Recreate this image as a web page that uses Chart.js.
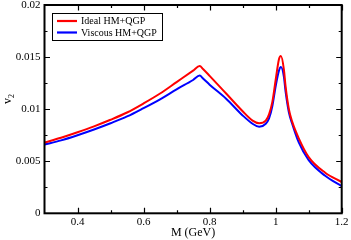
<!DOCTYPE html>
<html><head><meta charset="utf-8">
<script src="https://cdn.jsdelivr.net/npm/chart.js@4/dist/chart.umd.min.js"></script>
<style>html,body{margin:0;padding:0;background:#fff}#wrap{width:351px;height:240px}</style>
</head><body><div id="wrap"><canvas id="c" width="351" height="240"></canvas></div>
<script>
const massGeV   = [0.30,0.35,0.40,0.45,0.50,0.55,0.60,0.65,0.70,0.75,0.77,0.78,0.80,0.85,0.90,0.93,0.95,0.97,0.98,0.99,1.00,1.01,1.016,1.025,1.03,1.04,1.05,1.07,1.10,1.15,1.20];
const idealV2   = [0.0068,0.00725,0.00778,0.00835,0.00898,0.00968,0.01055,0.0115,0.0126,0.0137,0.01415,0.01386,0.0132,0.0115,0.0098,0.0089,0.00865,0.0089,0.0095,0.0107,0.0128,0.0148,0.0151,0.0138,0.0122,0.0100,0.0088,0.0072,0.0054,0.0039,0.0030];
const viscousV2 = [0.0066,0.0070,0.0075,0.00805,0.00865,0.0093,0.0101,0.01095,0.0119,0.0128,0.01322,0.01295,0.01235,0.0110,0.0094,0.0086,0.0083,0.0086,0.0091,0.0103,0.0122,0.0137,0.01404,0.0131,0.0117,0.0097,0.0086,0.0068,0.0051,0.0036,0.0026];
const seriesNames = ['Ideal HM+QGP','Viscous HM+QGP'];
const xTickValues = [0.4,0.6,0.8,1.0,1.2];
const xTickLabels = ['0.4','0.6','0.8','1','1.2'];
const xMinorTicks = [0.5,0.7,0.9,1.1];
const yTickValues = [0,0.005,0.01,0.015,0.02];
const yTickLabels = ['0','0.005','0.01','0.015','0.02'];
const yMinorTicks = [0.0025,0.0075,0.0125,0.0175];

const SERIF = '"Liberation Serif","Times New Roman",serif';

const decor = {
  id:'decor',
  afterDraw(chart){
    const ctx = chart.ctx, a = chart.chartArea, xs = chart.scales.x, ys = chart.scales.y;
    ctx.save();
    ctx.strokeStyle = '#000';
    ctx.lineWidth = 2;
    ctx.strokeRect(a.left, a.top, a.right - a.left, a.bottom - a.top);
    ctx.lineWidth = 1.2;
    const MAJ = 5.5, MIN = 3;
    ctx.beginPath();
    xTickValues.forEach(v=>{const p=Math.round(xs.getPixelForValue(v))+0.5; ctx.moveTo(p,a.bottom); ctx.lineTo(p,a.bottom-MAJ); ctx.moveTo(p,a.top); ctx.lineTo(p,a.top+MAJ);});
    xMinorTicks.forEach(v=>{const p=Math.round(xs.getPixelForValue(v))+0.5; ctx.moveTo(p,a.bottom); ctx.lineTo(p,a.bottom-MIN); ctx.moveTo(p,a.top); ctx.lineTo(p,a.top+MIN);});
    yTickValues.forEach(v=>{const p=Math.round(ys.getPixelForValue(v))+0.5; ctx.moveTo(a.left,p); ctx.lineTo(a.left+MAJ,p); ctx.moveTo(a.right,p); ctx.lineTo(a.right-MAJ,p);});
    yMinorTicks.forEach(v=>{const p=Math.round(ys.getPixelForValue(v))+0.5; ctx.moveTo(a.left,p); ctx.lineTo(a.left+MIN,p); ctx.moveTo(a.right,p); ctx.lineTo(a.right-MIN,p);});
    ctx.stroke();

    ctx.fillStyle = '#000';
    ctx.font = '11px ' + SERIF;
    ctx.textAlign = 'center'; ctx.textBaseline = 'top';
    xTickValues.forEach((v,i)=>ctx.fillText(xTickLabels[i], xs.getPixelForValue(v), a.bottom + 3.5));
    ctx.textAlign = 'right'; ctx.textBaseline = 'middle';
    yTickValues.forEach((v,i)=>ctx.fillText(yTickLabels[i], a.left - 4, ys.getPixelForValue(v)));

    // axis titles
    ctx.font = '12px ' + SERIF;
    ctx.textAlign = 'center'; ctx.textBaseline = 'alphabetic';
    ctx.fillText('M (GeV)', (a.left + a.right)/2, 236);
    ctx.save();
    ctx.translate(11, 100);
    ctx.rotate(-Math.PI/2);
    ctx.textAlign = 'left';
    ctx.font = '12px ' + SERIF;
    ctx.fillText('v', -4, 0);
    ctx.font = '8px ' + SERIF;
    ctx.fillText('2', 2, 3);
    ctx.restore();

    // legend
    const lx = 52, ly = 13, lw = 110, lh = 27;
    ctx.fillStyle = '#fff';
    ctx.fillRect(lx, ly, lw, lh);
    ctx.lineWidth = 1;
    ctx.strokeStyle = '#000';
    ctx.strokeRect(lx + 0.5, ly + 0.5, lw, lh);
    const items = chart.data.datasets;
    ctx.font = '10px ' + SERIF;
    ctx.textAlign = 'left'; ctx.textBaseline = 'middle';
    items.forEach((ds,i)=>{
      const yy = 21 + i*11.5;
      ctx.strokeStyle = ds.borderColor; ctx.lineWidth = 2.2;
      ctx.beginPath(); ctx.moveTo(57, yy); ctx.lineTo(77, yy); ctx.stroke();
      ctx.fillStyle = '#000';
      ctx.fillText(ds.label, 81, yy + 0.5);
    });
    ctx.restore();
  }
};

new Chart(document.getElementById('c'), {
  type:'line',
  data:{
    datasets:[
      {label:seriesNames[0], data:massGeV.map((m,i)=>({x:m,y:idealV2[i]})), borderColor:'#ff0000', borderWidth:2, pointRadius:0, cubicInterpolationMode:'monotone', fill:false},
      {label:seriesNames[1], data:massGeV.map((m,i)=>({x:m,y:viscousV2[i]})), borderColor:'#0000ff', borderWidth:2, pointRadius:0, cubicInterpolationMode:'monotone', fill:false}
    ]
  },
  options:{
    responsive:false, animation:false, devicePixelRatio:1,
    layout:{padding:{left:44.5, right:9.3, top:5, bottom:26.7}},
    plugins:{legend:{display:false}, tooltip:{enabled:false}},
    scales:{
      x:{type:'linear', min:0.3, max:1.2, display:false},
      y:{type:'linear', min:0, max:0.02, display:false}
    }
  },
  plugins:[decor]
});
</script></body></html>
